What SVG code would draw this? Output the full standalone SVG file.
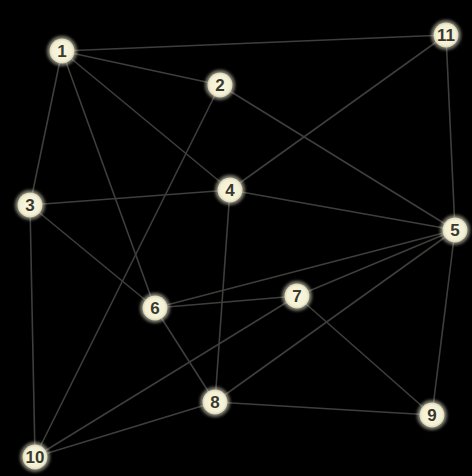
<svg xmlns="http://www.w3.org/2000/svg" width="472" height="476" viewBox="0 0 472 476">
<defs>
<radialGradient id="g" cx="0.5" cy="0.5" r="0.5">
<stop offset="0" stop-color="#fbf8e4"/>
<stop offset="0.8" stop-color="#f4f0d4"/>
<stop offset="1" stop-color="#d8d4b8"/>
</radialGradient>
<filter id="glow" x="-50%" y="-50%" width="200%" height="200%">
<feGaussianBlur stdDeviation="1.5"/>
</filter>
</defs>
<style>
.e line{stroke:#3e3e3c;stroke-width:1.6}
.n circle.h{fill:#f6f3dc;opacity:0.5;filter:url(#glow)}
.n circle.c{fill:url(#g)}
.n text{font-family:"Liberation Sans",Arial,sans-serif;font-size:17px;font-weight:bold;fill:#3a3a2e;text-anchor:middle;dominant-baseline:central}
</style>
<rect width="472" height="476" fill="#000"/>
<g class="e" id="connectors">
<line x1="62" y1="51" x2="446" y2="35"/>
<line x1="62" y1="51" x2="220" y2="85"/>
<line x1="62" y1="51" x2="230" y2="190"/>
<line x1="62" y1="51" x2="30" y2="205"/>
<line x1="62" y1="51" x2="155" y2="308"/>
<line x1="220" y1="85" x2="455" y2="230"/>
<line x1="220" y1="85" x2="35" y2="457"/>
<line x1="30" y1="205" x2="230" y2="190"/>
<line x1="30" y1="205" x2="155" y2="308"/>
<line x1="30" y1="205" x2="35" y2="457"/>
<line x1="230" y1="190" x2="446" y2="35"/>
<line x1="230" y1="190" x2="455" y2="230"/>
<line x1="230" y1="190" x2="215" y2="402"/>
<line x1="446" y1="35" x2="455" y2="230"/>
<line x1="455" y1="230" x2="155" y2="308"/>
<line x1="455" y1="230" x2="297" y2="296"/>
<line x1="455" y1="230" x2="215" y2="402"/>
<line x1="455" y1="230" x2="432" y2="415"/>
<line x1="155" y1="308" x2="297" y2="296"/>
<line x1="155" y1="308" x2="215" y2="402"/>
<line x1="297" y1="296" x2="432" y2="415"/>
<line x1="297" y1="296" x2="35" y2="457"/>
<line x1="215" y1="402" x2="432" y2="415"/>
<line x1="215" y1="402" x2="35" y2="457"/>
</g>
<g class="n" id="n1"><circle class="h" cx="62" cy="51" r="15"/><circle class="c" cx="62" cy="51" r="12.5"/><text x="62" y="51">1</text></g>
<g class="n" id="n2"><circle class="h" cx="220" cy="85" r="15"/><circle class="c" cx="220" cy="85" r="12.5"/><text x="220" y="85">2</text></g>
<g class="n" id="n3"><circle class="h" cx="30" cy="205" r="15"/><circle class="c" cx="30" cy="205" r="12.5"/><text x="30" y="205">3</text></g>
<g class="n" id="n4"><circle class="h" cx="230" cy="190" r="15"/><circle class="c" cx="230" cy="190" r="12.5"/><text x="230" y="190">4</text></g>
<g class="n" id="n5"><circle class="h" cx="455" cy="230" r="15"/><circle class="c" cx="455" cy="230" r="12.5"/><text x="455" y="230">5</text></g>
<g class="n" id="n6"><circle class="h" cx="155" cy="308" r="15"/><circle class="c" cx="155" cy="308" r="12.5"/><text x="155" y="308">6</text></g>
<g class="n" id="n7"><circle class="h" cx="297" cy="296" r="15"/><circle class="c" cx="297" cy="296" r="12.5"/><text x="297" y="296">7</text></g>
<g class="n" id="n8"><circle class="h" cx="215" cy="402" r="15"/><circle class="c" cx="215" cy="402" r="12.5"/><text x="215" y="402">8</text></g>
<g class="n" id="n9"><circle class="h" cx="432" cy="415" r="15"/><circle class="c" cx="432" cy="415" r="12.5"/><text x="432" y="415">9</text></g>
<g class="n" id="n10"><circle class="h" cx="35" cy="457" r="15"/><circle class="c" cx="35" cy="457" r="12.5"/><text x="35" y="457">10</text></g>
<g class="n" id="n11"><circle class="h" cx="446" cy="35" r="15"/><circle class="c" cx="446" cy="35" r="12.5"/><text x="446" y="35">11</text></g>
</svg>
